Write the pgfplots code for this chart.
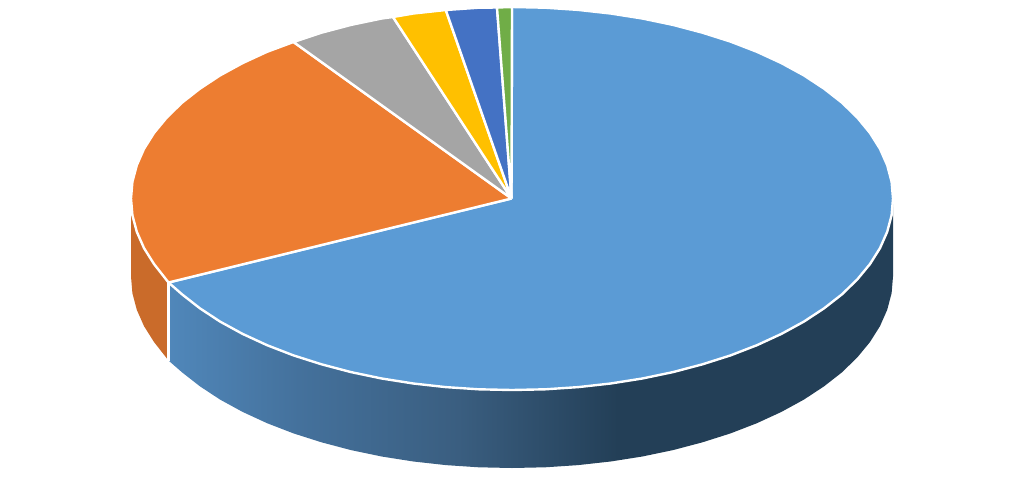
\documentclass[border=0pt]{standalone}
\usepackage{pgfplots}
\pgfplotsset{compat=1.18}
\definecolor{cblue}{HTML}{5B9BD5}
\definecolor{corange}{HTML}{ED7D31}
\definecolor{cgrey}{HTML}{A5A5A5}
\definecolor{cyellow}{HTML}{FFC000}
\definecolor{cblue2}{HTML}{4472C4}
\definecolor{cgreen}{HTML}{70AD47}
\definecolor{sorange}{HTML}{CA6B2A}
\definecolor{sa}{HTML}{5087BA}
\definecolor{sb}{HTML}{44719C}
\definecolor{sc}{HTML}{3A5E80}
\definecolor{sd}{HTML}{233F57}
% side of the big slice, 25bp..75bp spans the slice's width
\pgfdeclarehorizontalshading{sideblue}{100bp}{color(0bp)=(sa); color(25bp)=(sa); color(34bp)=(sb); color(45bp)=(sc); color(56bp)=(sd); color(100bp)=(sd)}
\begin{document}
\begin{tikzpicture}
\begin{axis}[
  scale only axis, width=1024pt, height=477pt,
  xmin=0, xmax=1024, ymin=0, ymax=477, y dir=reverse,
  axis line style={draw=none}, ticks=none,
  top/.style={line width=2.4pt, draw=white, line join=round},
]
% sides
\addplot[draw=none, shading=sideblue] coordinates {
 (893,198.5) (891.6,215.2) (887.2,231.8) (880,248.1) (870,264) (857.3,279.4) (842,294.3) (824.1,308.3)
 (803.9,321.6) (781.4,333.9) (756.9,345.2) (730.5,355.4) (702.5,364.3) (673,372.1) (642.3,378.5)
 (610.6,383.5) (578.2,387.1) (545.2,389.3) (512,390) (478.8,389.3) (445.8,387.1) (413.4,383.5)
 (381.7,378.5) (351,372.1) (321.5,364.3) (293.5,355.4) (267.1,345.2) (242.6,333.9) (220.1,321.6)
 (199.9,308.3) (182,294.3) (168.5,282.5)
 (168.5,360.5) (182,372.3) (199.9,386.3) (220.1,399.6) (242.6,411.9) (267.1,423.2) (293.5,433.4)
 (321.5,442.3) (351,450.1) (381.7,456.5) (413.4,461.5) (445.8,465.1) (478.8,467.3) (512,468)
 (545.2,467.3) (578.2,465.1) (610.6,461.5) (642.3,456.5) (673,450.1) (702.5,442.3) (730.5,433.4)
 (756.9,423.2) (781.4,411.9) (803.9,399.6) (824.1,386.3) (842,372.3) (857.3,357.4) (870,342)
 (880,326.1) (887.2,309.8) (891.6,293.2) (893,276.5) (893,198.5)
};
\addplot[draw=none, fill=sorange] coordinates {
 (168.5,282.5) (154,264) (144,248.1) (136.8,231.8) (132.4,215.2) (131,198.5)
 (131,276.5) (132.4,293.2) (136.8,309.8) (144,326.1) (154,342) (168.5,360.5) (168.5,282.5)
};
\addplot[line width=2.4pt, white] coordinates {(168.5,282.5) (168.5,360.5)};
% top face, clockwise from twelve o'clock
\addplot[top, fill=cblue] coordinates {
 (511.5,198.5) (512,7) (545.2,7.7) (578.2,9.9) (610.6,13.5) (642.3,18.5) (673,24.9) (702.5,32.7)
 (730.5,41.6) (756.9,51.8) (781.4,63.1) (803.9,75.4) (824.1,88.7) (842,102.7) (857.3,117.6)
 (870,133) (880,148.9) (887.2,165.2) (891.6,181.8) (893,198.5) (891.6,215.2) (887.2,231.8)
 (880,248.1) (870,264) (857.3,279.4) (842,294.3) (824.1,308.3) (803.9,321.6) (781.4,333.9)
 (756.9,345.2) (730.5,355.4) (702.5,364.3) (673,372.1) (642.3,378.5) (610.6,383.5) (578.2,387.1)
 (545.2,389.3) (512,390) (478.8,389.3) (445.8,387.1) (413.4,383.5) (381.7,378.5) (351,372.1)
 (321.5,364.3) (293.5,355.4) (267.1,345.2) (242.6,333.9) (220.1,321.6) (199.9,308.3) (182,294.3)
 (168.5,282.5) (511.5,198.5)
};
\addplot[top, fill=corange] coordinates {
 (511.5,198.5) (168.5,282.5) (154,264) (144,248.1) (136.8,231.8) (132.4,215.2) (131,198.5)
 (132.4,181.8) (136.8,165.2) (144,148.9) (154,133) (166.7,117.6) (182,102.7) (199.9,88.7)
 (220.1,75.4) (242.6,63.1) (267.1,51.8) (293.5,42) (511.5,198.5)
};
\addplot[top, fill=cgrey] coordinates {
 (511.5,198.5) (293.5,42) (321.5,32.7) (351,24.9) (381.7,18.5) (393,17) (511.5,198.5)
};
\addplot[top, fill=cyellow] coordinates {
 (511.5,198.5) (393,17) (413.4,13.5) (445.8,10) (511.5,198.5)
};
\addplot[top, fill=cblue2] coordinates {
 (511.5,198.5) (445.8,10) (478.8,7.7) (497,7.5) (511.5,198.5)
};
\addplot[top, fill=cgreen] coordinates {
 (511.5,198.5) (497,7.5) (512,7) (511.5,198.5)
};
\end{axis}
\end{tikzpicture}
\end{document}
